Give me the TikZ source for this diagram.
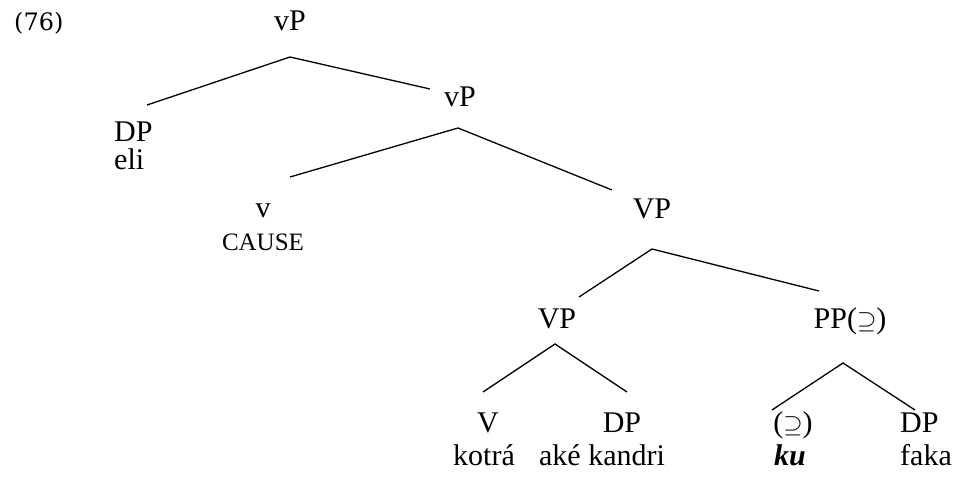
\documentclass[tikz,border=0pt]{standalone}
\usepackage{fontspec}
\setmainfont{Liberation Serif}
\newfontfamily\exfont{DejaVu Serif}
\begin{document}
\begin{tikzpicture}[x=1pt,y=-1pt,
  lbl/.style={inner sep=0pt,anchor=base,font=\fontsize{30}{32}\selectfont},
  lbll/.style={lbl,anchor=base west},
  small/.style={inner sep=0pt,anchor=base,font=\fontsize{25}{27}\selectfont},
  br/.style={line width=1.3pt}]
\useasboundingbox (0,0) rectangle (954,481);
\node[inner sep=0pt,anchor=base west,font=\exfont\fontsize{24}{26}\selectfont] (ex) at (14,31) {(76)};
% labels
\node[lbl] (vP1) at (290,31) {vP};
\node[lbll] (DP1) at (114,142) {DP};
\node[lbll] (eli) at (114,170) {eli};
\node[lbl] (vP2) at (460,107) {vP};
\node[lbl] (v) at (263,218) {v};
\node[small] (cause) at (263,251) {CAUSE};
\node[lbl] (VP1) at (652,219) {VP};
\node[lbl] (VP2) at (557,329) {VP};
\node[lbl] (PP) at (850,329) {PP($\supseteq$)};
\node[lbl] (V) at (488,432) {V};
\node[lbl] (kotra) at (484,465) {kotrá};
\node[lbl] (DP2) at (622,432) {DP};
\node[lbl] (ake) at (602,465) {aké kandri};
\node[lbl] (P) at (793,432) {($\supseteq$)};
\node[lbl] (ku) at (790,465) {\textbf{\textit{ku}}};
\node[lbll] (DP3) at (900,432) {DP};
\node[lbll] (faka) at (900,465) {faka};
% branch points
\coordinate (a1) at (290,57);  \coordinate (l1) at (147,105); \coordinate (r1) at (430,89);
\coordinate (a2) at (458,128); \coordinate (l2) at (290,177); \coordinate (r2) at (612,190);
\coordinate (a3) at (652,249); \coordinate (l3) at (579,297); \coordinate (r3) at (819,291);
\coordinate (a4) at (555,344); \coordinate (l4) at (483,392); \coordinate (r4) at (627,392);
\coordinate (a5) at (843,363); \coordinate (l5) at (772,410); \coordinate (r5) at (915,410);
\draw[br] (l1) -- (a1) -- (r1);
\draw[br] (l2) -- (a2) -- (r2);
\draw[br] (l3) -- (a3) -- (r3);
\draw[br] (l4) -- (a4) -- (r4);
\draw[br] (l5) -- (a5) -- (r5);
\end{tikzpicture}
\end{document}
